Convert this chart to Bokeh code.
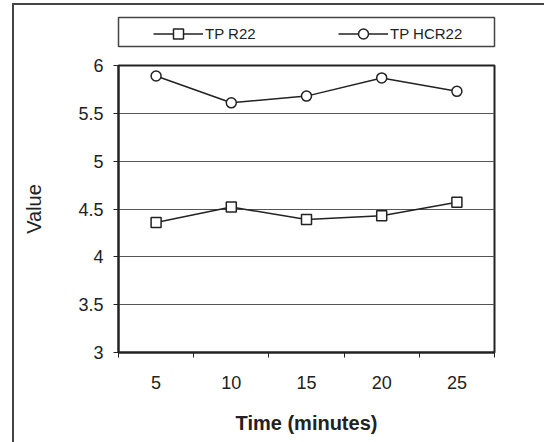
from bokeh.plotting import figure
from bokeh.layouts import column
from bokeh.models import (Range1d, FixedTicker, Legend, LegendItem, InlineStyleSheet)
from bokeh.embed import file_html
from bokeh.resources import INLINE

# data
times = [5, 10, 15, 20, 25]
tp_r22 = [4.36, 4.52, 4.39, 4.43, 4.57]
tp_hcr22 = [5.89, 5.61, 5.68, 5.87, 5.73]
y_ticks = [3, 3.5, 4, 4.5, 5, 5.5, 6]
x_bounds = [2.5, 7.5, 12.5, 17.5, 22.5, 27.5]
series_names = ["TP R22", "TP HCR22"]

FONT = "Liberation Sans"
INK = "#222222"

# ---------------- legend strip (its frame is the legend box) ----------------
top = figure(width=544, height=50, output_backend="svg", toolbar_location=None,
             x_range=Range1d(2.5, 27.5), y_range=Range1d(100, 101),
             x_axis_location=None, y_axis_location=None,
             min_border_left=118, min_border_right=33,
             min_border_top=17, min_border_bottom=4)
top.background_fill_color = "white"
top.border_fill_color = "white"
top.outline_line_color = "#444444"
top.outline_line_width = 1.5
top.grid.visible = False

# same series drawn here (outside this strip's view) as legend proxies
tl1 = top.line(times, tp_r22, line_color=INK, line_width=1.5)
tm1 = top.scatter(times, tp_r22, marker="square", size=10, fill_color="white",
                  line_color=INK, line_width=1.5)
tl2 = top.line(times, tp_hcr22, line_color=INK, line_width=1.5)
tm2 = top.scatter(times, tp_hcr22, marker="circle", size=10, fill_color="white",
                  line_color=INK, line_width=1.5)

legend = Legend(items=[LegendItem(label=series_names[0], renderers=[tl1, tm1]),
                       LegendItem(label=series_names[1], renderers=[tl2, tm2])],
                orientation="horizontal", location=(35, 0),
                padding=2, spacing=19, glyph_width=50, glyph_height=25,
                label_standoff=2, label_width=114, label_height=20,
                border_line_color=None, background_fill_alpha=0,
                label_text_font=FONT, label_text_font_size="15px",
                label_text_color=INK)
top.add_layout(legend, "center")

# ---------------- main chart ----------------
p = figure(width=544, height=392, output_backend="svg", toolbar_location=None,
           x_range=Range1d(2.5, 27.5), y_range=Range1d(3, 6),
           min_border_left=118, min_border_right=50,
           min_border_top=15, min_border_bottom=90)
p.background_fill_color = "white"
p.border_fill_color = "white"
p.outline_line_color = INK
p.outline_line_width = 2

# grid
p.xgrid.visible = False
p.ygrid.ticker = FixedTicker(ticks=y_ticks)
p.ygrid.grid_line_color = "#555555"
p.ygrid.grid_line_width = 1

# y axis
p.yaxis.ticker = FixedTicker(ticks=y_ticks)
p.yaxis.axis_label = "Value"
p.yaxis.axis_label_text_font = FONT
p.yaxis.axis_label_text_font_size = "20px"
p.yaxis.axis_label_text_font_style = "normal"
p.yaxis.axis_label_text_color = INK
p.yaxis.axis_label_standoff = 30
p.yaxis.major_label_text_font = FONT
p.yaxis.major_label_text_font_size = "18px"
p.yaxis.major_label_text_color = INK
p.yaxis.major_label_standoff = 10
p.yaxis.major_tick_out = 5
p.yaxis.major_tick_in = 0
p.yaxis.minor_tick_line_color = None
p.yaxis.axis_line_color = INK
p.yaxis.axis_line_width = 2
p.yaxis.major_tick_line_color = INK
p.yaxis.major_tick_line_width = 1

# x axis: labels at categories, ticks between categories
p.xaxis.ticker = FixedTicker(ticks=times, minor_ticks=x_bounds)
p.xaxis.axis_label = "Time (minutes)"
p.xaxis.axis_label_text_font = FONT
p.xaxis.axis_label_text_font_size = "20px"
p.xaxis.axis_label_text_font_style = "bold"
p.xaxis.axis_label_text_color = INK
p.xaxis.axis_label_standoff = 20
p.xaxis.major_label_text_font = FONT
p.xaxis.major_label_text_font_size = "18px"
p.xaxis.major_label_text_color = INK
p.xaxis.major_label_standoff = 18
p.xaxis.major_tick_out = 0
p.xaxis.major_tick_in = 0
p.xaxis.major_tick_line_color = None
p.xaxis.minor_tick_out = 5
p.xaxis.minor_tick_in = 0
p.xaxis.minor_tick_line_color = INK
p.xaxis.minor_tick_line_width = 1
p.xaxis.axis_line_color = INK
p.xaxis.axis_line_width = 2

# series
p.line(times, tp_r22, line_color=INK, line_width=1.5)
p.scatter(times, tp_r22, marker="square", size=10, fill_color="white",
          line_color=INK, line_width=1.5)
p.line(times, tp_hcr22, line_color=INK, line_width=1.5)
p.scatter(times, tp_hcr22, marker="circle", size=10, fill_color="white",
          line_color=INK, line_width=1.5)

layout = column(top, p, spacing=0)
# outer chart frame (only its left and top edges fall inside the window)
layout.stylesheets = [InlineStyleSheet(css="""
:host::after { content: ""; position: fixed; left: 12px; top: 3px;
  width: 600px; height: 500px; border-left: 2px solid #444444;
  border-top: 2px solid #444444; pointer-events: none; z-index: 10; }
""")]

open("out.html", "w").write(file_html(layout, INLINE))
